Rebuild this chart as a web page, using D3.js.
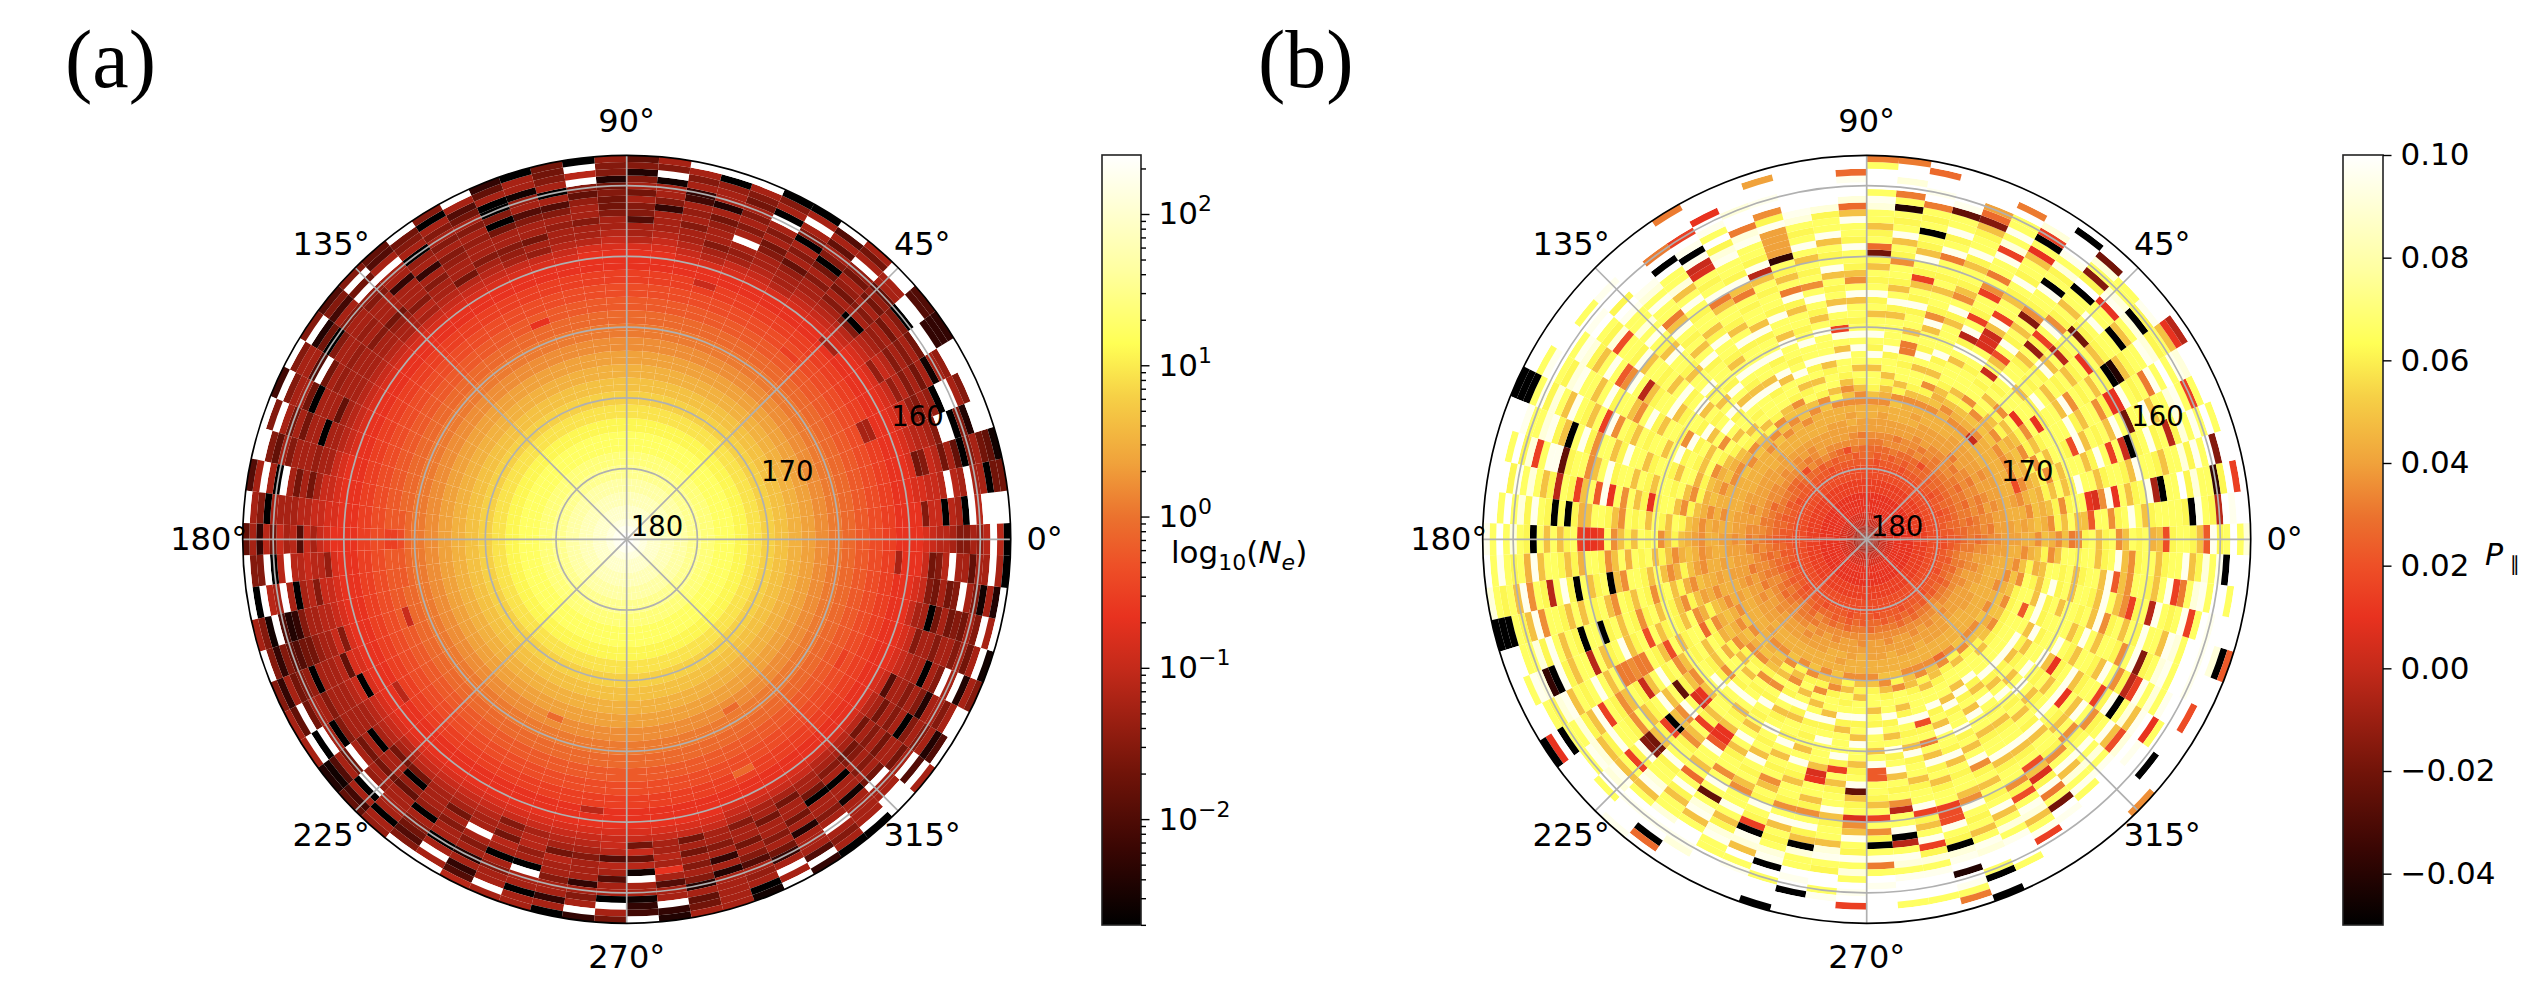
<!DOCTYPE html>
<html lang="en">
<head>
  <meta charset="UTF-8">
  <title>Polar maps</title>
  <script src="https://d3js.org/d3.v7.min.js" charset="utf-8"></script>
  <style>
    body { margin: 0; background: #fff; }
    svg { display: block; }
    text { font-family: "DejaVu Sans", sans-serif; fill: #000; }
    .tag { font-family: "Liberation Serif", serif; font-size: 82px; }
    .tick line { stroke: #000; stroke-width: 1.4; }
    .domain { display: none; }
  </style>
</head>
<body>
<div class="div1"></div>
<script>
  // cell values are read off the picture, one character per cell:
  // 0 = bottom of the colour bar, z = top of it, rows are sectors going counter clockwise
  // panel (a), rings 0-41 are nearly the same all round
  var neInner = 'zyxwwvvuuttssrrrqqppoonnmmllkkjjiihhggffee'.slice(0, 42)
  // panel (a), rings 42-56, one row per sector
  var neOuter = [
    'eedcbba88a9bzb0','ee8cc0ba0zbzzzz','eddccbzbazaa077','ed78cb7a608a761','edcbba8zz082zzz','edcc98a90zza8zz',
    'edc9b8a7a1a9zzz','ed9cb8a8a7zz333','edcba9a7a80zz55','dcb80a8a796aazz','dcba8a79a79za7a','dcbaa8a708a6a5z',
    'dbaa96a8a08aza0','dcbaa87a8az0a80','dca9aza8a8a78az','dba8aa97a2aa90z','dcbaa8a9a43a8az','edcbaaa38aa1z8a',
    'edbaa588a7a8286','edcbaa877872889','edbaa8aa968zbz0','dcbaa9a85a0a877','dc9a7aa85a91aa0','dca98aa70800a63',
    'dcba8aa9a8a75az','dcb7aa98a8a8a08','dcbaa8a3a90a87z','dcab8aaa3aaza56','dcaa97aaa89z7z8','dcbaa8a9aa8a485',
    'dcbaaa9aa8072z8','dcbaaa9a7z5aa8z','dcba6aaa07aa8z4','dcbaa0aa7a7az8z','edcaa9aaa8a68zz','edcca7a7az0aza5',
    'eddccbbaaaa08az','eedcac5bac7b3a6','ed9bbcbbzb0z88z','edcc8ba0azabz0z','edcbbaa8325z18a','ed8caa97756838z',
    'edd6baaa0987a38','ed0cbaaa8aa7z6a','edcbaaaa80az0za','edcba0a7az7a512','edba7aa7a9z0a46','edcb7096aaaa0a9',
    'edcbaaa90a8758z','edcba7a8aa0azaz','edcbaaza8a2a35b','edc8a7ba0a8aaza','edcabb9a0zaa0aa','edcba7baa8aa3a0',
    'edcba8aaa3a8az3','edccb5ba5aa0za7','edc7c6b1zaa134z','edcaabaea5aaz32','edc7a7a8a82a67a','edcaa8a3a2aaaaa',
    'dcb8aa7a85a9a01','dcaa7aa8a73azaz','dca7aa7a2aaa5z3','dcaa70aa8aza8a0','dba8a0aa1aaaaz0','dba78a8a7zaazzz',
    'db7a8a7aa7az5za','dba7a8a08a8a25z','dc5aa8a82aa8azz','edcbaa0a8zaz2a8','edc8aa8aa8a7az1','ecaa07a787a8zaz',
    'edc87a78za81a2z','eec78bzaa6aaza0'
  ]
  // panel (a), single cells that stand out inside ring 42: sector, ring, level
  var neCells = [
    [41,34,'c'],[39,33,'h'],[38,33,'h'],[37,33,'g'],[37,34,'f'],[37,35,'f'],[36,33,'h'],[5,39,'a'],[5,38,'a'],[73,40,'a'],
    [68,36,'f'],[62,29,'i'],[61,38,'i'],[51,28,'i'],[54,40,'b'],[44,40,'b'],[23,34,'e'],[15,39,'c'],[9,41,'a'],[10,36,'f']
  ]

  // panel (b), rings 0-10 are nearly the same all round
  var polInner = '8acdeeeffgg'
  // shade each letter of polRows stands for
  var polShadeKeys = 'ghijklmnopqrstuvwxyz'
  var polShadeVals = 'ghijkllmmknqrryxzzzz'
  // panel (b), rings 11-56, one row per sector
  var polRows = [
    'ghhijijkkmm mnopqopqrp rsqrtpqsrtoqs rstrqsurtwsv','hhiijjkjlml nmoqnprqsq qrstprsutqrst strvutrswuxw',
    'hiijijkklmn onpqoqrprs trqpustqrsuqr tswrvstvrxwz','hhijjkjlkmn mpoqnrqsqr ustqrstrqutsr qtsvrutwsxzz',
    'ghijikjkmln onpoqrprqs stqruspsqtrsu rtsrvtusxtyz','hiijjkklmmo npqorpsqst rtuqsrtqusrts uqtsvutwswzz',
    'hhijikjlkmn opnqprqrst sturqstprsqut rstutwsuvxzz','ghijjkkmlno npqoqrpstr tsquptrsqtrsu qrtsuvrtqwsz',
    'hiijkjllmno oqprqsrstr usqtrsqrtpsqr stuqtvsruwyz','hhijkkjmlon pqoqrpstsq trsruqtprstqr sutsruvtszzz',
    'hiijjklmmop nqprsqtrsu strqstrqsuprs qtsuwrtsvzzz','higjkklmnop oqrpstrsut qstursqtrprst ustrvsuzwxzz',
    'hiikjllmnoo pqrqstsrtu srtsqurstqrsu rstqutzwvzzz','ghijkklmnnp qoqrstsqtu rsutqrstqpsrt sutvsutswxzz',
    'hiikkllnmop qrpsqtrust stqruspqrstqr utsrqvtuwzyz','hhjkjmlnoop qrstqsurts quprstqsrtsqu trutsvuzxwzy',
    'hiikklmnoqp rqstrsutsq tsrurtqsrtuqr sutrsvwuzyzz','ghijkllmopo qrqstrusts tqrusqrtsprtq usrtvsuwvzxz',
    'hiijkmlnopq rstqsurtut sqtrusrtqrsut rqstvuszwxtz','hiikjlmnopp qrsqtsutus rtsquspqrtsur tsuqtvwxuzyz',
    'hhjkkmnmopq pqrstuqsut rsuqtrsqusrtq utsrvwzxwyzz','higkllmnopr qstrqustsu tqrsutpsrtqsu trsvuwxzwzzz',
    'hiikmlmnoqp rsqtrustus rtsqrustqrtsu qsturvwuxzyz','hhjklmnoopq srqtusrtsu qtsurstrsqtur stuvqwzvxyzz',
    'giklmmnopqq prstqusrut sruqtsrtsqurs tuvrwtuzwzzz','hhjkklnnopq qstruqtsus trusqrtsqtusr tsvuwuzxwzzy',
    'hikjlmnopqp rstsuqrtus qrtsurqstrsut qvstwuxzwzzz','higkkmnoqpr qsrtuqsurt strusqtrsuqrt susvuwxzyzzz',
    'hijkllmnpoq rqstrusqtr utsqrstuqrsut vtsuwrxwuzzx','hhikkmnnoqp rsqtusrtqu srutqsrstqurt suvrtwuxtzyz',
    'hiikllmnopo qrsptqurst rqutsrqstuprs utqrvuswxwzz','gijkklmnoqp nqrsqtrupr stqruspqstrus qtsuvrtwuszz',
    'hhjkkmlnnop qopsqrtrus qstrsqrtpustq rsuqtvruswxz','hijikllmnoo pnqrostqrt srqtsurqstpru stqruvstuwyz',
    'hhijklkmnno nqorpqsrst qrsqtsrusqpts rquustvrwtzz','hiijjllmmnp opnqrpqssr trqsptqursqtr strqtvsurzwz',
    'hhijkkklmno mnpoqrsqrt qsrtpqrstqorq strsurvtwsxz','ghhijkjlkmm onpmoqrqps rtqrqpstrqstr qsqtursvtwsu',
    'hiijkjkmlmn ompnqopqrq srtosqprstorq rtsquosrtusy','hhjijkllmnm nopmqropqs qrtspqstrqsor utqrspuqtrsv',
    'hiijkkjlmmo mnoqpnrqsr prsqrtpqsrsqt qrstpuqrtszz','ghijjklkmno npomqrpqrs qsrprtqsrptsq rtqsurvtswxz',
    'hijkkjlmnmo pnqropsqrs rqsptrqusrqtp stqruspvutwx','hhijklkmnop oqnprqstrq spqrstqpsrtqs usrtquvrswxz',
    'hijikllmnnq poqnrsqtrs qpsrutqsrtqpr stuqrvstuwzy','ghijkkmlnop qoprnsqrts pqrstqusrqtpr tsurqvuswzxy',
    'hhjkkllnmoq oprqstprus qtrsupqtsrqts urtsquvwtxzw','hijjklmnopo qprsqtrusr stqrusqprtsur stvuqtwuxzyu',
    'hhijkmlnopq oqrpsrtusq rtqpsrustqsrt urqstvwuzxwz','gikjlkmnoqp rqsptrusrt qsutqrstpsutr svuqtwxuvzyz',
    'hijkkmlnopr qpsrutqrsu trsqutrsqptsu tqrvustwzxzy','hhikllmnoqp rsqturqstr usqtrspqtrusr stuvqxtuwzzy',
    'hijkkmnnopq rpsqtursrt qsutrqstrpsuq trsvuwxtzwzz','ghikllnmoqq prstqursut stqurstqrpsur quvtsxuwtzzy',
    'hijkmlmnopr qsrturqsts urtsqrtsuqrts qvutrwxsuzwy','hhjkkmnoopq rqstursqut sqrtusqrstpqu trusvtwuxszz',
    'hiikllmnnpq rstqsrutsq turqstrqsutpr stuvtxuwzxzy','gijklmmnoqp qrsturtqsu rsuqtrspqtsur qtuvsuwzxtyz',
    'hhjkkmnnoqr pstqrusrtq urstqrstuprqs utrvsuxwztzy','hijkllmoopq qrstsuqrts tqursqrstqpsu trsvuxzwutxz',
    'hhiklmmnopp rqstursqut sruqsrtsqputr tqsuvwxtuzyx','gijkkmnoopq qrstqurstu rtqsuprsqtrsu qtvsuwxztzwz',
    'hhiklmlnoqp rstqursqus tqrstuqrtsprt suvqtuwzxzyz','hijkklmnopr qsturqsutr sqrtsuqrspqtr utsvwuxzwzzz',
    'hhjklmmnoqp rstsurqtus rtqsruqstrpsu qvtuswxzwzzz','giklkmnoopq rqstursqtu sqrtusrqtprsu tvsuwzxwzzzz',
    'hhjkmlnnopq qrstuqrsut rsqtursqutprs uqtvwuzxzzzz','hijklmmnoqo prsturqtsu qsrtuqrstprus tvquwxszwzzz',
    'hhikllmoopq qrstsqurts usrqtsrqutprs qutvsuwxzyzz','gijkkmnnooq prsqtursts tqrusqstrpsuq rtvusxwuzwzy',
    'hiikllmnopo qrstqursqt srtquprsqtrut squvtwxuzvzz','hhjjkkmnoop qpsrqtursq tsrqusqptrsqu trsuvtwuxzyz',
    'hijkkllmnoo pqroqstrsq rtsqurqptsrqt usrtvuswxtzy','ghijjkklmmn opnqrpqstr stqrsuqprstqr tsuqrvtuswxy'
  ]
  // panel (b), the dark and red cells: sector, ring, level
  var polCells = [
    [18,56,'j'],[17,56,'j'],[16,55,'i'],[17,49,'2'],[17,51,'j'],[16,50,'j'],[16,46,'0'],[15,50,'6'],[14,50,'8'],[14,51,'i'],
    [14,52,'l'],[13,54,'j'],[12,51,'0'],[12,52,'f'],[12,49,'e'],[11,55,'0'],[10,54,'7'],[10,51,'8'],[10,48,'0'],[11,46,'0'],
    [13,47,'f'],[15,43,'j'],[13,43,'j'],[18,42,'7'],[18,43,'i'],[16,39,'f'],[13,40,'f'],[11,40,'8'],[12,38,'f'],[13,36,'f'],
    [13,33,'b'],[12,33,'d'],[12,34,'d'],[12,35,'c'],[11,33,'g'],[11,30,'c'],[16,28,'j'],[16,29,'j'],[10,37,'9'],[10,39,'f'],
    [9,39,'b'],[9,43,'7'],[8,41,'e'],[8,47,'0'],[8,51,'0'],[9,49,'e'],[7,43,'0'],[7,44,'2'],[7,54,'e'],[7,55,'b'],[6,41,'e'],
    [6,42,'e'],[4,41,'0'],[4,40,'c'],[5,42,'7'],[4,47,'b'],[5,52,'f'],[6,47,'j'],[3,53,'8'],[2,52,'3'],[2,55,'f'],[2,44,'0'],
    [2,43,'a'],[1,48,'0'],[1,52,'b'],[2,37,'e'],[2,34,'d'],[2,33,'e'],[4,38,'f'],[5,33,'g'],[7,30,'e'],[8,28,'e'],[9,21,'c'],
    [4,23,'g'],[0,44,'g'],[0,50,'h'],[0,30,'j'],[1,33,'h'],
    [19,54,'i'],[19,49,'i'],[22,55,'l'],[24,53,'e'],[25,56,'j'],[25,49,'0'],[25,52,'f'],[26,50,'0'],[26,52,'j'],[22,43,'3'],
    [23,42,'b'],[25,46,'d'],[25,47,'c'],[22,50,'k'],[23,49,'j'],[22,44,'l'],[22,45,'l'],[22,46,'l'],[22,47,'l'],[22,38,'j'],
    [24,40,'j'],[25,41,'j'],[20,31,'f'],[27,43,'j'],[29,46,'g'],[30,39,'b'],[30,43,'h'],[32,42,'f'],[33,46,'0'],[34,46,'6'],
    [34,50,'f'],[35,46,'b'],[35,43,'f'],[35,38,'e'],[35,40,'h'],[35,32,'e'],[36,46,'0'],[36,44,'0'],[37,49,'0'],[37,39,'f'],
    [37,40,'e'],[37,41,'e'],[37,42,'f'],[32,54,'0'],[32,55,'0'],[32,56,'0'],
    [40,54,'0'],[40,55,'0'],[40,56,'0'],[42,51,'3'],[42,50,'0'],[41,44,'0'],[41,41,'0'],[39,43,'0'],[39,38,'0'],[39,47,'b'],
    [42,44,'b'],[43,41,'j'],[43,40,'j'],[43,38,'j'],[43,37,'j'],[44,46,'f'],[44,53,'0'],[44,56,'0'],[44,55,'e'],[46,39,'0'],
    [46,43,'7'],[46,40,'f'],[45,35,'6'],[46,34,'d'],[46,33,'e'],[44,39,'c'],[42,35,'g'],[43,33,'g'],[43,27,'i'],[47,36,'f'],
    [48,35,'e'],[48,36,'e'],[48,37,'h'],[49,44,'6'],[48,43,'i'],[48,54,'0'],[48,55,'i'],[46,47,'f'],[46,44,'8'],[51,46,'0'],
    [51,45,'f'],[52,50,'0'],[53,46,'0'],[53,53,'0'],[52,56,'0'],[53,35,'d'],[53,36,'e'],[54,34,'f'],[55,37,'6'],[55,41,'d'],
    [55,54,'f'],
    [56,45,'0'],[56,48,'j'],[56,41,'f'],[56,35,'h'],[56,34,'h'],[57,44,'0'],[57,45,'b'],[57,40,'b'],[58,41,'f'],[58,46,'f'],
    [59,31,'j'],[59,28,'g'],[59,41,'f'],[59,42,'g'],[59,43,'g'],[59,47,'0'],[59,51,'2'],[59,55,'j'],[60,53,'0'],[60,56,'0'],
    [62,51,'f'],[63,48,'7'],[63,46,'j'],[63,43,'d'],[62,44,'g'],[63,41,'g'],[65,56,'k'],[66,53,'0'],[67,50,'e'],[67,44,'0'],
    [66,47,'g'],[68,44,'b'],[69,44,'8'],[68,45,'f'],[67,41,'f'],[66,37,'e'],[67,33,'e'],[68,54,'g'],[70,55,'0'],[70,56,'h'],
    [71,43,'b'],[71,49,'f'],[71,40,'f'],[72,46,'f'],[72,47,'j'],[73,53,'0'],[72,37,'h'],[69,25,'h'],[62,20,'i']
  ]

  var thetaTicks = [0, 45, 90, 135, 180, 225, 270, 315]
  var ringTicks = [175, 170, 165, 160, 155]
  var ringLabels = [180, 170, 160]
  var neMajor = [0.01, 0.1, 1, 10, 100]
  var neMinor = [0.002,0.003,0.004,0.005,0.006,0.007,0.008,0.009,0.02,0.03,0.04,0.05,0.06,0.07,0.08,0.09,
    0.2,0.3,0.4,0.5,0.6,0.7,0.8,0.9,2,3,4,5,6,7,8,9,20,30,40,50,60,70,80,90,200]
  var polTicks = [-0.04, -0.02, 0, 0.02, 0.04, 0.06, 0.08, 0.10]
  var cmapStops = [0, 0.1, 0.2, 0.333, 0.4, 0.467, 0.53, 0.6, 0.686, 0.755, 0.85, 1]
  var cmapColors = ['#000000','#3a0603','#721409','#c42a1a','#e8321f','#ee5027','#eb722e','#f0a23b','#f6d046','#ffff55','#ffffa0','#ffffff']

  var width = 2544
  var height = 990
  var sectorCount = 74
  var ringCount = 57
  var plotR = 384
  var centerY = 539.3
  var barTop = 155
  var barBottom = 925

  var cmap = d3.scaleLinear().domain(cmapStops).range(cmapColors)
  var rScale = d3.scaleLinear().domain([180, 152.85]).range([0, plotR])
  var ringDeg = d3.scaleLinear().domain([0, ringCount]).range([180, 152.85])
  var sectorDeg = d3.scaleLinear().domain([0, sectorCount]).range([-180 / 74, 360 - 180 / 74])
  var neBar = d3.scaleLog().domain([Math.pow(10, -2.7), Math.pow(10, 2.39)]).range([barBottom, barTop])
  var neFrac = d3.scaleLog().domain(neBar.domain()).range([0, 1])
  var polBar = d3.scaleLinear().domain([-0.05, 0.10]).range([barBottom, barTop])
  var polFrac = d3.scaleLinear().domain(polBar.domain()).range([0, 1])
  var levelFrac = d3.scaleLinear().domain([0, 35]).range([0, 1])

  var svg = d3.select('.div1').append('svg').attr('width', width).attr('height', height)
  svg.append('rect').attr('width', width).attr('height', height).attr('fill', '#fff')

  drawPanel(626.7, buildNe(), neFrac)
  drawPanel(1866.7, buildPol(), polFrac)
  drawBars()

  svg.append('text').attr('class', 'tag').attr('x', 65).attr('y', 87).text('(a)')
  svg.append('text').attr('class', 'tag').attr('x', 1258).attr('y', 87).text('(b)')

  function levelOf(ch){
    return levelFrac(parseInt(ch, 36))
  }

  function buildNe(){
    var cells = []
    neOuter.forEach((row, s) => {
      var full = neInner + row
      for(let i = 0; i < ringCount; i++){
        cells.push({s: s, r: i, v: neFrac.invert(levelOf(full[i]))})
      }
    })
    neCells.forEach((c) => {
      cells[c[0] * ringCount + c[1]].v = neFrac.invert(levelOf(c[2]))
    })
    return cells
  }

  function buildPol(){
    var cells = []
    polRows.forEach((row, s) => {
      var outer = row.replace(/ /g, '')
      for(let i = 0; i < ringCount; i++){
        var ch = i < polInner.length ? polInner[i] : polShadeVals[polShadeKeys.indexOf(outer[i - polInner.length] || 'w')]
        cells.push({s: s, r: i, v: polFrac.invert(levelOf(ch))})
      }
    })
    polCells.forEach((c) => {
      cells[c[0] * ringCount + c[1]].v = polFrac.invert(levelOf(c[2]))
    })
    return cells
  }

  function toArc(deg){
    return (90 - deg) * Math.PI / 180
  }

  function drawPanel(cx, cells, frac){
    var g = svg.append('g').attr('transform', 'translate(' + cx + ',' + centerY + ')')
    var arc = d3.arc()
      .innerRadius((d) => rScale(ringDeg(d.r)))
      .outerRadius((d) => rScale(ringDeg(d.r + 1)))
      .startAngle((d) => toArc(sectorDeg(d.s + 1)))
      .endAngle((d) => toArc(sectorDeg(d.s)))

    g.selectAll('.cell')
      .data(cells)
      .enter()
      .append('path')
      .attr('class', 'cell')
      .attr('d', arc)
      .attr('fill', (d) => cmap(frac(d.v)))

    // grid
    g.selectAll('.ring')
      .data(ringTicks)
      .enter()
      .append('circle')
      .attr('r', (d) => rScale(d))
      .attr('fill', 'none')
      .attr('stroke', '#b0b0b0')
      .attr('stroke-width', 1.7)

    g.selectAll('.spoke')
      .data(thetaTicks)
      .enter()
      .append('line')
      .attr('x2', (d) => plotR * Math.cos(d * Math.PI / 180))
      .attr('y2', (d) => -plotR * Math.sin(d * Math.PI / 180))
      .attr('stroke', '#b0b0b0')
      .attr('stroke-width', 1.7)

    g.append('circle')
      .attr('r', plotR)
      .attr('fill', 'none')
      .attr('stroke', '#000')
      .attr('stroke-width', 1.7)

    g.selectAll('.thetaLabel')
      .data(thetaTicks)
      .enter()
      .append('text')
      .attr('x', (d) => 418 * Math.cos(d * Math.PI / 180))
      .attr('y', (d) => -418 * Math.sin(d * Math.PI / 180))
      .attr('text-anchor', 'middle')
      .attr('dominant-baseline', 'central')
      .attr('font-size', 32)
      .text((d) => d + '°')

    g.selectAll('.ringLabel')
      .data(ringLabels)
      .enter()
      .append('text')
      .attr('x', (d) => (rScale(d) + 33) * Math.cos(23 * Math.PI / 180))
      .attr('y', (d) => -(rScale(d) + 33) * Math.sin(23 * Math.PI / 180))
      .attr('text-anchor', 'middle')
      .attr('dominant-baseline', 'central')
      .attr('font-size', 27.5)
      .text((d) => d)
  }

  function drawBars(){
    var grad = svg.append('defs').append('linearGradient')
      .attr('id', 'cmapGrad')
      .attr('x1', 0).attr('y1', 1).attr('x2', 0).attr('y2', 0)
    grad.selectAll('stop')
      .data(cmapStops)
      .enter()
      .append('stop')
      .attr('offset', (d) => d)
      .attr('stop-color', (d, i) => cmapColors[i])

    // colour bar of panel (a)
    drawBarRect(1102, 39)
    svg.append('g')
      .attr('transform', 'translate(1141,0)')
      .call(d3.axisRight(neBar).tickValues(neMinor).tickSize(5).tickFormat(''))
    var ax = svg.append('g')
      .attr('transform', 'translate(1141,0)')
      .call(d3.axisRight(neBar).tickValues(neMajor).tickSize(8.5).tickPadding(9).tickFormat(''))
    ax.selectAll('.tick text').each(function(d){
      var t = d3.select(this).attr('font-size', 31).attr('font-family', null)
      t.append('tspan').text('10')
      t.append('tspan').attr('font-size', 22).attr('dy', -13).text(d3.format('d')(Math.log10(d)).replace('-', '−'))
    })
    var neLab = svg.append('text').attr('x', 1171).attr('y', 563).attr('font-size', 31)
    neLab.append('tspan').text('log')
    neLab.append('tspan').attr('font-size', 22).attr('dy', 7).text('10')
    neLab.append('tspan').attr('dy', -7).text('(')
    neLab.append('tspan').attr('font-style', 'italic').text('N')
    neLab.append('tspan').attr('font-size', 22).attr('font-style', 'italic').attr('dy', 7).text('e')
    neLab.append('tspan').attr('dy', -7).text(')')

    // colour bar of panel (b)
    drawBarRect(2343, 40)
    var bx = svg.append('g')
      .attr('transform', 'translate(2383,0)')
      .call(d3.axisRight(polBar).tickValues(polTicks).tickSize(8.5).tickPadding(9).tickFormat(d3.format('.2f')))
    bx.selectAll('.tick text').attr('font-size', 31).attr('font-family', null)
    var polLab = svg.append('text').attr('x', 2485).attr('y', 565).attr('font-size', 30)
    polLab.append('tspan').attr('font-style', 'italic').text('P')
    polLab.append('tspan').attr('font-size', 20).attr('dx', 7).attr('dy', 6).text('∥')
  }

  function drawBarRect(x, w){
    svg.append('rect')
      .attr('x', x)
      .attr('y', barTop)
      .attr('width', w)
      .attr('height', barBottom - barTop)
      .attr('fill', 'url(#cmapGrad)')
      .attr('stroke', '#222')
      .attr('stroke-width', 1.6)
  }

</script>
</body>
</html>
